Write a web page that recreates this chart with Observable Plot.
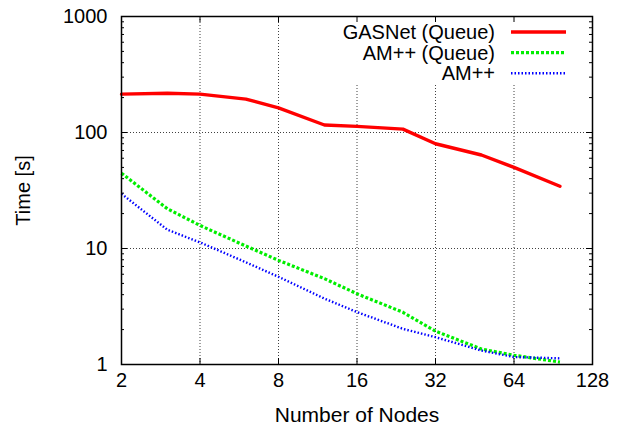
<!DOCTYPE html>
<html><head><meta charset="utf-8">
<script src="https://cdn.jsdelivr.net/npm/d3@7"></script>
<script src="https://cdn.jsdelivr.net/npm/@observablehq/plot@0.6"></script>
<style>
body{margin:0;background:#fff}
svg{font-family:"Liberation Sans",Arial,Helvetica,sans-serif}
</style>
</head><body><div id="chart"></div>
<script>
const nodes = [2, 3, 4, 6, 8, 12, 16, 24, 32, 48, 64, 96];
const gasnetQueue = [214, 218, 214, 194, 163, 116, 113, 107, 80, 64, 50, 34.4];
const ampQueue = [44.6, 22, 15.8, 10.5, 7.9, 5.5, 4.07, 2.82, 1.94, 1.36, 1.2, 1.05];
const amp = [29.6, 14.5, 11.3, 7.6, 5.7, 3.7, 2.83, 2.03, 1.72, 1.32, 1.16, 1.13];
const seriesNames = ["GASNet (Queue)", "AM++ (Queue)", "AM++"];
const seriesColors = ["#ff0000", "#00ee00", "#0000ff"];
const xTicks = [2, 4, 8, 16, 32, 64, 128];
const yMajor = [1, 10, 100, 1000];
const yMinor = [2,3,4,5,6,7,8,9,20,30,40,50,60,70,80,90,200,300,400,500,600,700,800,900];

const seriesValues = [gasnetQueue, ampQueue, amp];
const rows = seriesValues.map((vals, s) => nodes.map((n, i) => ({series: seriesNames[s], nodes: n, time: vals[i]})));

const W = 627, H = 430, mL = 121, mR = 35, mT = 16, mB = 66;
const fw = W - mL - mR, fh = H - mT - mB;
const FS = 20;

const styles = [
  {strokeWidth: 3.4, strokeDasharray: null, cap: "round"},
  {strokeWidth: 3.2, strokeDasharray: "3,2", cap: "butt"},
  {strokeWidth: 2.4, strokeDasharray: "1.5,2", cap: "butt"}
];

const chart = Plot.plot({
  width: W, height: H,
  marginLeft: mL, marginRight: mR, marginTop: mT, marginBottom: mB,
  style: {fontFamily: '"Liberation Sans", Arial, sans-serif', fontSize: FS + "px", background: "white", color: "black"},
  x: {type: "log", base: 2, domain: [2, 128]},
  y: {type: "log", domain: [1, 1000]},
  marks: [
    Plot.gridX(xTicks, {stroke: "#000", strokeOpacity: 0.75, strokeWidth: 1, strokeDasharray: "1,2"}),
    Plot.gridY(yMajor, {stroke: "#000", strokeOpacity: 0.75, strokeWidth: 1, strokeDasharray: "1,2"}),
    ...rows.map((r, s) => Plot.line(r, {x: "nodes", y: "time", stroke: seriesColors[s], strokeWidth: styles[s].strokeWidth, strokeDasharray: styles[s].strokeDasharray, strokeLinecap: styles[s].cap, strokeLinejoin: "round"})),
    Plot.tickX(xTicks, {x: d => d, insetTop: fh - 6, stroke: "#000"}),
    Plot.tickX(xTicks, {x: d => d, insetBottom: fh - 6, stroke: "#000"}),
    Plot.tickY(yMajor, {y: d => d, insetRight: fw - 6, stroke: "#000"}),
    Plot.tickY(yMajor, {y: d => d, insetLeft: fw - 6, stroke: "#000"}),
    Plot.tickY(yMinor, {y: d => d, insetRight: fw - 3, stroke: "#000"}),
    Plot.tickY(yMinor, {y: d => d, insetLeft: fw - 3, stroke: "#000"}),
    Plot.axisX(xTicks, {tickSize: 0, tickPadding: 8, fontSize: FS, tickFormat: d => String(d), label: null}),
    Plot.axisY(yMajor, {tickSize: 0, tickPadding: 14, fontSize: FS, tickFormat: d => String(d), label: "Time [s]", labelAnchor: "center", labelArrow: "none", labelOffset: 106}),
    Plot.text(["Number of Nodes"], {frameAnchor: "bottom", text: d => d, dy: 57, fontSize: 21, fill: "#000"}),
    Plot.frame({stroke: "#000", strokeWidth: 1.5})
  ]
});
document.getElementById("chart").appendChild(chart);

// legend
const svg = d3.select(chart);
const gridY = chart.querySelector('[aria-label="y-grid"]');
const box = document.createElementNS("http://www.w3.org/2000/svg", "rect");
box.setAttribute("x", 332); box.setAttribute("y", mT + 2);
box.setAttribute("width", 246); box.setAttribute("height", 67);
box.setAttribute("fill", "white");
gridY.parentNode.insertBefore(box, gridY.nextSibling);

const leg = svg.append("g").attr("font-size", FS);
seriesNames.forEach((name, i) => {
  const y = 32 + i * 20.6;
  leg.append("text").attr("x", 495).attr("y", y).attr("dy", "0.35em").attr("text-anchor", "end").attr("fill", "black").text(name);
  leg.append("line").attr("x1", 511).attr("x2", 566).attr("y1", y).attr("y2", y)
    .attr("stroke", seriesColors[i]).attr("stroke-width", styles[i].strokeWidth)
    .attr("stroke-dasharray", styles[i].strokeDasharray);
});
</script>
</body></html>
